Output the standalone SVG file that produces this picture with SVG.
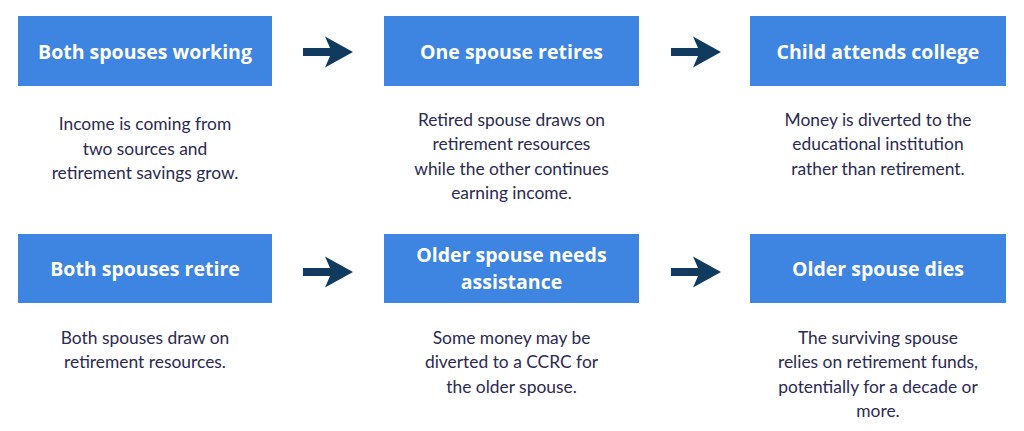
<svg xmlns="http://www.w3.org/2000/svg" width="1024" height="431" viewBox="0 0 1024 431">
<style>
.box{fill:#3d85e0}
.t{font-family:"Open Sans","Liberation Sans",sans-serif;font-weight:700;font-size:19.5px;fill:#ffffff;text-anchor:middle}
.b{font-family:Lato,"Open Sans","Liberation Sans",sans-serif;font-size:17.4px;fill:#2b2a52;text-anchor:middle}
.arr{fill:#113b5e}
</style>
<defs>
<path id="arrow" class="arr" d="M0,-4 L27,-4 L22,-15.5 L50,0 L22,15.5 L27,4 L0,4 Z"/>
</defs>
<rect width="1024" height="431" fill="#ffffff"/>
<g id="n1"><rect class="box" x="18" y="16" width="254" height="70"/><text class="t" x="145" y="58.5">Both spouses working</text>
<text class="b" x="145" y="130">Income is coming from</text><text class="b" x="145" y="154.5">two sources and</text><text class="b" x="145" y="178.5">retirement savings grow.</text></g>
<g id="n2"><rect class="box" x="384" y="16" width="255" height="70"/><text class="t" x="511.5" y="58.5">One spouse retires</text>
<text class="b" x="511.5" y="126">Retired spouse draws on</text><text class="b" x="511.5" y="150">retirement resources</text><text class="b" x="511.5" y="174.5">while the other continues</text><text class="b" x="511.5" y="198.5">earning income.</text></g>
<g id="n3"><rect class="box" x="750" y="16" width="256" height="70"/><text class="t" x="878" y="58.5">Child attends college</text>
<text class="b" x="878" y="126">Money is diverted to the</text><text class="b" x="878" y="150">educational institution</text><text class="b" x="878" y="174.5">rather than retirement.</text></g>
<g id="n4"><rect class="box" x="18" y="234" width="254" height="69"/><text class="t" x="145" y="276">Both spouses retire</text>
<text class="b" x="145" y="344">Both spouses draw on</text><text class="b" x="145" y="368">retirement resources.</text></g>
<g id="n5"><rect class="box" x="384" y="234" width="255" height="69"/><text class="t" x="511.5" y="262">Older spouse needs</text><text class="t" x="511.5" y="289">assistance</text>
<text class="b" x="511.5" y="344">Some money may be</text><text class="b" x="511.5" y="368">diverted to a CCRC for</text><text class="b" x="511.5" y="392.5">the older spouse.</text></g>
<g id="n6"><rect class="box" x="750" y="234" width="256" height="69"/><text class="t" x="878" y="275.5">Older spouse dies</text>
<text class="b" x="878" y="344">The surviving spouse</text><text class="b" x="878" y="368">relies on retirement funds,</text><text class="b" x="878" y="392.5">potentially for a decade or</text><text class="b" x="878" y="416.5">more.</text></g>
<g id="connectors">
<use href="#arrow" x="303" y="52"/>
<use href="#arrow" x="671" y="52"/>
<use href="#arrow" x="303" y="272"/>
<use href="#arrow" x="671" y="272"/>
</g>
</svg>
